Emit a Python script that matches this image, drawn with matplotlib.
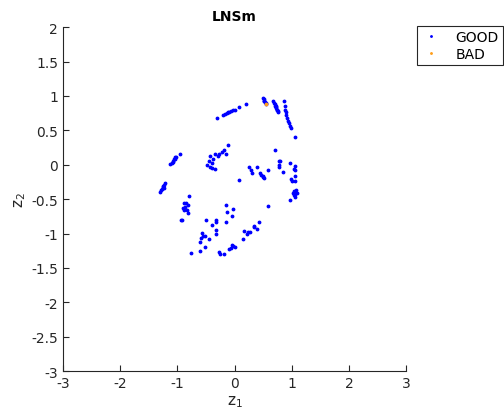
import matplotlib.pyplot as plt

# GOOD points (z1, z2)
good_z1 = [
    0.50, 0.51, 0.52, 0.53, 0.54, 0.52, 0.55,
    -0.31, -0.20, -0.17, -0.14, -0.12, -0.09, -0.06, -0.03, 0.0, 0.08, 0.20,
    0.67, 0.69, 0.70, 0.71, 0.72, 0.73, 0.74, 0.75, 0.76, 0.74, 0.72,
    0.87, 0.88, 0.88, 0.89, 0.90, 0.92, 0.94, 0.95, 0.96, 0.98, 1.06,
    0.71, 0.78, 0.80, 0.77, 0.78, 0.84, 0.97, 1.05, 1.04, 1.06,
    0.98, 1.05, 1.06, 1.00,
    1.03, 1.05, 1.08, 1.04, 1.06, 1.09, 1.02, 1.05, 0.97, 0.59,
    0.26, 0.29, 0.30, 0.40, 0.45, 0.47, 0.49, 0.51, 0.50, 0.59, 0.08,
    -0.96, -1.03, -1.05, -1.07, -1.08, -1.10, -1.13, -1.06, -1.04,
    -1.22, -1.24, -1.25, -1.27, -1.28, -1.30, -1.26, -1.23,
    -0.79,
    -0.11, -0.18, -0.22, -0.27, -0.29, -0.15, -0.35, -0.43, -0.37, -0.44, -0.40, -0.49, -0.43, -0.40, -0.34,
    -0.88, -0.85, -0.82, -0.86, -0.90, -0.88, -0.84, -0.81, -0.94, -0.92,
    -0.15, -0.03, -0.14, -0.04, -0.15,
    -0.50, -0.39, -0.32, -0.32, -0.32, -0.32, -0.57, -0.59, -0.56, -0.52, -0.45, -0.60, -0.52, -0.60, -0.76,
    -0.27, -0.25, -0.18, -0.10, -0.07, -0.04, -0.02, 0.0,
    0.14, 0.16, 0.22, 0.24, 0.27, 0.34, 0.34, 0.39, 0.42,
]
good_z2 = [
    0.97, 0.95, 0.93, 0.91, 0.90, 0.92, 0.89,
    0.68, 0.72, 0.74, 0.75, 0.76, 0.77, 0.78, 0.79, 0.80, 0.84, 0.88,
    0.93, 0.90, 0.88, 0.86, 0.84, 0.82, 0.80, 0.78, 0.76, 0.79, 0.85,
    0.92, 0.85, 0.80, 0.77, 0.72, 0.68, 0.64, 0.60, 0.56, 0.54, 0.41,
    0.22, 0.06, 0.06, 0.00, -0.03, -0.10, 0.02, -0.02, -0.06, -0.08,
    -0.20, -0.17, -0.23, -0.24,
    -0.38, -0.40, -0.37, -0.44, -0.42, -0.41, -0.41, -0.47, -0.51, -0.60,
    -0.03, -0.08, -0.12, -0.03, -0.12, -0.15, -0.18, -0.19, -0.17, -0.07, -0.22,
    0.15, 0.11, 0.08, 0.06, 0.04, 0.02, 0.01, 0.09, 0.12,
    -0.27, -0.30, -0.33, -0.35, -0.37, -0.40, -0.31, -0.34,
    -0.45,
    0.28, 0.21, 0.18, 0.15, 0.13, 0.16, 0.15, 0.13, 0.09, 0.06, 0.03, -0.01, -0.03, -0.05, -0.06,
    -0.56, -0.55, -0.58, -0.61, -0.63, -0.66, -0.66, -0.70, -0.80, -0.81,
    -0.59, -0.65, -0.68, -0.75, -0.83,
    -0.81, -0.87, -0.80, -0.83, -0.95, -1.00, -0.99, -1.07, -1.04, -1.04, -1.08, -1.12, -1.19, -1.26, -1.28,
    -1.27, -1.30, -1.30, -1.23, -1.21, -1.17, -1.18, -1.20,
    -1.08, -0.96, -1.00, -0.98, -0.97, -0.89, -0.91, -0.93, -0.83,
]

# BAD points
bad_z1 = [0.55]
bad_z2 = [0.88]

x_ticks = [-3, -2, -1, 0, 1, 2, 3]
y_ticks = [-3, -2.5, -2, -1.5, -1, -0.5, 0, 0.5, 1, 1.5, 2]

fig = plt.figure(figsize=(5.04, 4.14), dpi=100)
ax = fig.add_axes([0.125, 0.101, 0.681, 0.831])

ax.plot(good_z1, good_z2, '.', color=(0, 0, 1), markersize=3.5, label='GOOD')
ax.plot(bad_z1, bad_z2, '.', color=(1.0, 0.62, 0.1), markersize=3.5, label='BAD')

ax.set_xlim(-3, 3)
ax.set_ylim(-3, 2)
ax.set_xticks(x_ticks)
ax.set_yticks(y_ticks)
ax.set_xticklabels([str(t) for t in x_ticks])
ax.set_yticklabels(['%g' % t for t in y_ticks])
ax.tick_params(direction='in', labelsize=10, length=4, color='#262626', labelcolor='#262626')
ax.spines['top'].set_visible(False)
ax.spines['right'].set_visible(False)
for s in ['left', 'bottom']:
    ax.spines[s].set_color('#262626')

ax.set_xlabel('z$_1$', fontsize=11, color='#262626', labelpad=2)
ax.set_ylabel('z$_2$', fontsize=11, color='#262626', labelpad=2)
ax.set_title('LNSm', fontsize=10, fontweight='bold', pad=5)

leg = fig.legend(loc='upper right', bbox_to_anchor=(0.998, 0.935), fontsize=10,
                 frameon=True, fancybox=False, edgecolor='#262626', framealpha=1,
                 borderaxespad=0, handlelength=1.4, handletextpad=1.1,
                 borderpad=0.3, labelspacing=0.2, markerscale=0.6)
leg.get_frame().set_linewidth(0.8)

plt.savefig('out.png', dpi=100)
